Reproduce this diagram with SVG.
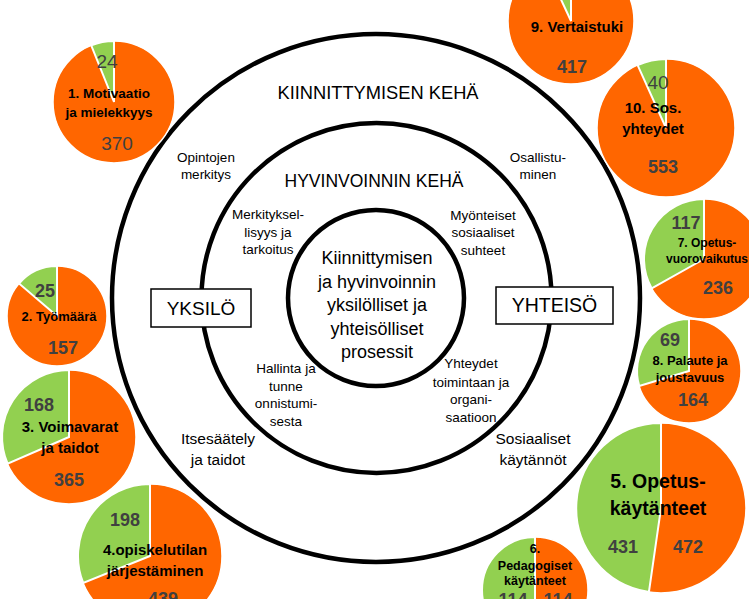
<svg xmlns="http://www.w3.org/2000/svg" width="749" height="599" viewBox="0 0 749 599">
<style>
text{font-family:"Liberation Sans",Arial,sans-serif;text-anchor:middle;fill:#000}
.ring{fill:none;stroke:#000;stroke-width:4.5}
.box{fill:#fff;stroke:#000;stroke-width:1.5}
.or{fill:#FF6600;stroke:#fff;stroke-width:1.5}
.gr{fill:#92D050;stroke:#fff;stroke-width:2}
.lbl{font-weight:bold}
.val{fill:#404040;font-weight:bold;font-size:18px}
.valr{fill:#404040;font-size:19px}
.s13{font-size:13.5px}
.s15{font-size:15.5px}
</style>
<rect width="749" height="599" fill="#fff"/>

<g id="rings">
<circle class="ring" cx="376" cy="298" r="264"/>
<circle class="ring" cx="376.5" cy="298" r="175"/>
<circle class="ring" cx="376" cy="298" r="88"/>
</g>

<g id="ring-titles">
<text x="378" y="99" font-size="18.3">KIINNITTYMISEN KEHÄ</text>
<text x="374" y="187" font-size="17.5">HYVINVOINNIN KEHÄ</text>
</g>

<g id="outer-labels" class="s13">
<text x="206" y="162">Opintojen</text>
<text x="206" y="179">merkitys</text>
<text x="538" y="162">Osallistu-</text>
<text x="538" y="179">minen</text>
<text x="218" y="444" class="s15">Itsesäätely</text>
<text x="218" y="465" class="s15">ja taidot</text>
<text x="533" y="444" class="s15">Sosiaaliset</text>
<text x="533" y="465" class="s15">käytännöt</text>
</g>

<g id="middle-labels" class="s13">
<text x="268" y="219">Merkityksel-</text>
<text x="268" y="237">lisyys ja</text>
<text x="268" y="254">tarkoitus</text>
<text x="483" y="220">Myönteiset</text>
<text x="483" y="237">sosiaaliset</text>
<text x="483" y="255">suhteet</text>
<text x="286" y="373">Hallinta ja</text>
<text x="286" y="391">tunne</text>
<text x="286" y="408">onnistumi-</text>
<text x="286" y="426">sesta</text>
<text x="471" y="368">Yhteydet</text>
<text x="471" y="387">toimintaan ja</text>
<text x="471" y="404">organi-</text>
<text x="471" y="422">saatioon</text>
</g>

<g id="center" font-size="18">
<text x="377" y="264">Kiinnittymisen</text>
<text x="377" y="288">ja hyvinvoinnin</text>
<text x="377" y="311">yksilölliset ja</text>
<text x="377" y="335">yhteisölliset</text>
<text x="377" y="358">prosessit</text>
</g>

<g id="yksilo">
<rect class="box" x="151" y="289" width="100" height="38"/>
<text x="201" y="315" font-size="19">YKSILÖ</text>
</g>
<g id="yhteiso">
<rect class="box" x="496" y="287" width="117" height="37"/>
<text x="554.5" y="312" font-size="19.5">YHTEISÖ</text>
</g>

<g id="pie1">
<circle class="or" cx="114" cy="102" r="61"/>
<path class="gr" d="M114,102 L91.2,45.4 A61,61 0 0 1 114,41 Z"/>
<text class="valr" x="107" y="68">24</text>
<text class="lbl s13" x="109" y="98">1. Motivaatio</text>
<text class="lbl s13" x="109" y="117">ja mielekkyys</text>
<text class="valr" x="117" y="150">370</text>
</g>

<g id="pie2">
<circle class="or" cx="57" cy="316" r="50"/>
<path class="gr" d="M57,316 L19,283.5 A50,50 0 0 1 57,266 Z"/>
<text class="val" x="45" y="297" font-size="17">25</text>
<text class="lbl" x="59" y="321" font-size="13">2. Työmäärä</text>
<text class="val" x="63" y="354">157</text>
</g>

<g id="pie3">
<circle class="or" cx="69" cy="437" r="67"/>
<path class="gr" d="M69,437 L7.6,463.7 A67,67 0 0 1 69,370 Z"/>
<text class="val" x="39" y="411">168</text>
<text class="lbl" x="70" y="432" font-size="15">3. Voimavarat</text>
<text class="lbl" x="70" y="453" font-size="15">ja taidot</text>
<text class="val" x="69" y="486">365</text>
</g>

<g id="pie4">
<circle class="or" cx="150" cy="556" r="72"/>
<path class="gr" d="M150,556 L83.2,582.9 A72,72 0 0 1 150,484 Z"/>
<text class="val" x="125" y="526">198</text>
<text class="lbl" x="155" y="555" font-size="15">4.opiskelutilan</text>
<text class="lbl" x="155" y="576" font-size="15">järjestäminen</text>
<text class="val" x="163" y="605">439</text>
</g>

<g id="pie9">
<circle class="or" cx="571" cy="21" r="63"/>
<path class="gr" d="M571,21 L544.4,-36.1 A63,63 0 0 1 571,-42 Z"/>
<text class="lbl" x="577" y="32" font-size="15">9. Vertaistuki</text>
<text class="val" x="572" y="73" font-size="19">417</text>
</g>

<g id="pie10">
<circle class="or" cx="666" cy="128" r="69"/>
<path class="gr" d="M666,128 L637.6,65.1 A69,69 0 0 1 666,59 Z"/>
<text class="valr" x="658" y="89">40</text>
<text class="lbl" x="653" y="113" font-size="15">10. Sos.</text>
<text class="lbl" x="653" y="134" font-size="15">yhteydet</text>
<text class="val" x="663" y="173" font-size="19">553</text>
</g>

<g id="pie7">
<circle class="or" cx="704" cy="259" r="60"/>
<path class="gr" d="M704,259 L651.7,288.4 A60,60 0 0 1 704,199 Z"/>
<text class="val" x="686" y="229">117</text>
<text class="lbl" x="707" y="247" font-size="12">7. Opetus-</text>
<text class="lbl" x="707" y="263" font-size="12">vuorovaikutus</text>
<text class="val" x="718" y="294">236</text>
</g>

<g id="pie8">
<circle class="or" cx="689" cy="371" r="52"/>
<path class="gr" d="M689,371 L639.2,385.9 A52,52 0 0 1 689,319 Z"/>
<text class="val" x="670" y="346">69</text>
<text class="lbl" x="690" y="365" font-size="13">8. Palaute ja</text>
<text class="lbl" x="690" y="382" font-size="13">joustavuus</text>
<text class="val" x="693" y="406">164</text>
</g>

<g id="pie5">
<circle class="or" cx="661" cy="508" r="85"/>
<path class="gr" d="M661,508 L648.9,592.1 A85,85 0 0 1 661,423 Z"/>
<text class="lbl" x="658" y="488" font-size="19.5">5. Opetus-</text>
<text class="lbl" x="658" y="515" font-size="19.5">käytänteet</text>
<text class="val" x="623" y="553">431</text>
<text class="val" x="688" y="553">472</text>
</g>

<g id="pie6">
<circle class="or" cx="535" cy="590" r="53"/>
<path class="gr" d="M535,590 L535,643 A53,53 0 0 1 535,537 Z"/>
<text class="lbl" x="535" y="553" font-size="12.5">6.</text>
<text class="lbl" x="535" y="570" font-size="12.5">Pedagogiset</text>
<text class="lbl" x="535" y="585" font-size="12.5">käytänteet</text>
<text class="val" x="513" y="606">114</text>
<text class="val" x="558" y="606">114</text>
</g>
</svg>
